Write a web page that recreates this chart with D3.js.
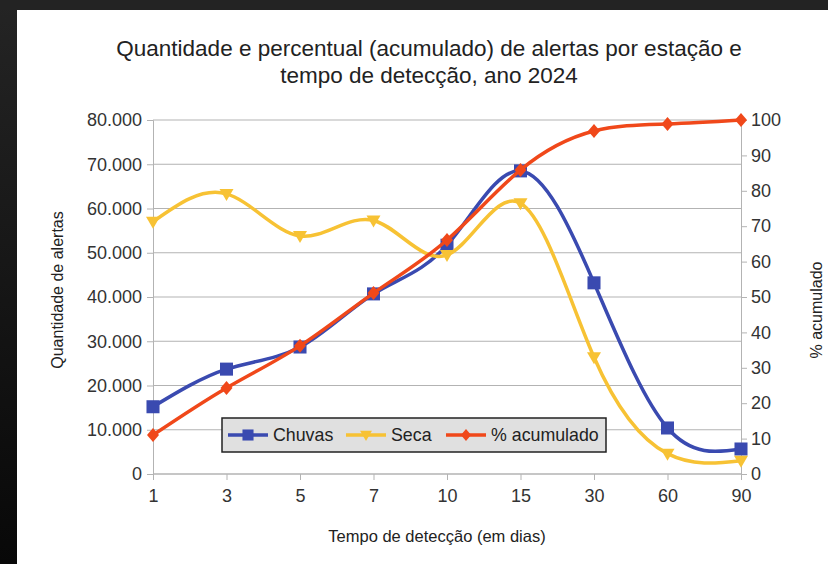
<!DOCTYPE html>
<html>
<head>
<meta charset="utf-8">
<script src="https://cdnjs.cloudflare.com/ajax/libs/d3/7.8.5/d3.min.js"></script>
<style>
  body { margin: 0; background: #111; }
  svg { display: block; font-family: "Liberation Sans", Arial, sans-serif; }
</style>
</head>
<body>
<svg id="chart" width="828" height="564"></svg>
<script>
// categories (days) and series
var dias = ['1', '3', '5', '7', '10', '15', '30', '60', '90'];
var chuvas = [15200, 23700, 28700, 40700, 51700, 68500, 43200, 10400, 5650];
var seca = [57000, 63300, 53800, 57300, 49500, 61200, 26400, 4600, 3000];
var acumulado = [11.0, 24.3, 36.2, 51.1, 66.1, 85.9, 96.9, 98.9, 100];
var leftTicks = [0, 10000, 20000, 30000, 40000, 50000, 60000, 70000, 80000];
var rightTicks = [0, 10, 20, 30, 40, 50, 60, 70, 80, 90, 100];

var svg = d3.select('#chart');

// dark frame around the white chart
var defs = svg.append('defs');
var grad = defs.append('linearGradient').attr('id', 'frame')
    .attr('x1', 0).attr('y1', 0).attr('x2', 0).attr('y2', 1);
grad.append('stop').attr('offset', '0%').attr('stop-color', '#242424');
grad.append('stop').attr('offset', '100%').attr('stop-color', '#080808');
svg.append('rect').attr('width', 828).attr('height', 564).attr('fill', 'url(#frame)');
svg.append('rect').attr('x', 0).attr('y', 0).attr('width', 828).attr('height', 10).attr('fill', '#232323');
svg.append('rect').attr('x', 17).attr('y', 10).attr('width', 811).attr('height', 554).attr('fill', '#fff');

var margin = {left: 153, right: 87, top: 120, bottom: 90},
    width = 828 - margin.left - margin.right,
    height = 564 - margin.top - margin.bottom;

var x = d3.scalePoint().domain(dias).range([0, width]);
var yL = d3.scaleLinear().domain([0, 80000]).range([height, 0]);
var yR = d3.scaleLinear().domain([0, 100]).range([height, 0]);

var g = svg.append('g').attr('transform', 'translate(' + margin.left + ',' + margin.top + ')');

// gridlines
g.append('g').selectAll('line')
    .data(leftTicks)
    .enter().append('line')
    .attr('x1', 0).attr('x2', width)
    .attr('y1', yL).attr('y2', yL)
    .attr('stroke', '#b3b3b3').attr('stroke-width', 1);

var fmt = function(d) { return d3.format(',')(d).replace(/,/g, '.'); };

var axL = g.append('g')
    .call(d3.axisLeft(yL).tickValues(leftTicks).tickFormat(fmt).tickSize(6).tickPadding(5));
var axR = g.append('g').attr('transform', 'translate(' + width + ',0)')
    .call(d3.axisRight(yR).tickValues(rightTicks).tickSize(6).tickPadding(4));
var axB = g.append('g').attr('transform', 'translate(0,' + height + ')')
    .call(d3.axisBottom(x).tickSize(6).tickPadding(9));

[axL, axR, axB].forEach(function(a) {
    a.select('.domain').attr('stroke', '#b3b3b3');
    a.selectAll('.tick line').attr('stroke', '#b3b3b3');
    a.selectAll('.tick text').attr('fill', '#333').style('font-size', '18px')
        .style('font-family', '"Liberation Sans", Arial, sans-serif');
});
axB.select('.domain').remove();
g.append('line').attr('x1', 0).attr('x2', width).attr('y1', height).attr('y2', height)
    .attr('stroke', '#b3b3b3');

// lines
var series = [
    {name: 'Chuvas', values: chuvas, y: yL, color: '#3a4ab0', marker: 'square'},
    {name: 'Seca', values: seca, y: yL, color: '#f7c234', marker: 'triangle'},
    {name: '% acumulado', values: acumulado, y: yR, color: '#f0481a', marker: 'diamond'}
];

function markerPath(type) {
    if (type === 'square') return d3.symbol(d3.symbolSquare, 170)();
    if (type === 'diamond') return 'M0,-7L6,0L0,7L-6,0Z';
    return 'M-7,-5L7,-5L0,7Z';
}

series.forEach(function(s) {
    var line = d3.line()
        .x(function(d, i) { return x(dias[i]); })
        .y(function(d) { return s.y(d); })
        .curve(d3.curveNatural);
    g.append('path')
        .datum(s.values)
        .attr('d', line)
        .attr('fill', 'none')
        .attr('stroke', s.color)
        .attr('stroke-width', 3.5);
    g.append('g').selectAll('path')
        .data(s.values)
        .enter().append('path')
        .attr('transform', function(d, i) { return 'translate(' + x(dias[i]) + ',' + s.y(d) + ')'; })
        .attr('d', markerPath(s.marker))
        .attr('fill', s.color);
});

// legend
var lg = svg.append('g').attr('transform', 'translate(222,418)');
lg.append('rect').attr('width', 384).attr('height', 34)
    .attr('fill', '#e0e0e0').attr('stroke', '#222').attr('stroke-width', 1.5);
var legendX = [6, 124, 224];
series.forEach(function(s, i) {
    var it = lg.append('g').attr('transform', 'translate(' + legendX[i] + ',17)');
    it.append('line').attr('x1', 0).attr('x2', 40).attr('stroke', s.color).attr('stroke-width', 3.5);
    it.append('path').attr('transform', 'translate(20,0) scale(0.85)')
        .attr('d', markerPath(s.marker)).attr('fill', s.color);
    it.append('text').attr('x', 45).attr('y', 6).text(s.name)
        .style('font-size', '17.8px').attr('fill', '#222');
});

// titles
var title = svg.append('text').attr('text-anchor', 'middle').attr('fill', '#222')
    .style('font-size', '22.5px');
title.append('tspan').attr('x', 429).attr('y', 56)
    .text('Quantidade e percentual (acumulado) de alertas por estação e');
title.append('tspan').attr('x', 429).attr('y', 83)
    .text('tempo de detecção, ano 2024');

svg.append('text')
    .attr('transform', 'translate(63,' + (margin.top + height / 2 - 7) + ') rotate(-90)')
    .attr('text-anchor', 'middle').attr('fill', '#222').style('font-size', '16px')
    .text('Quantidade de alertas');

svg.append('text')
    .attr('transform', 'translate(822,' + 310 + ') rotate(-90)')
    .attr('text-anchor', 'middle').attr('fill', '#222').style('font-size', '16px')
    .text('% acumulado');

svg.append('text').attr('x', 437).attr('y', 542)
    .attr('text-anchor', 'middle').attr('fill', '#222').style('font-size', '16.5px')
    .text('Tempo de detecção (em dias)');
</script>
</body>
</html>
